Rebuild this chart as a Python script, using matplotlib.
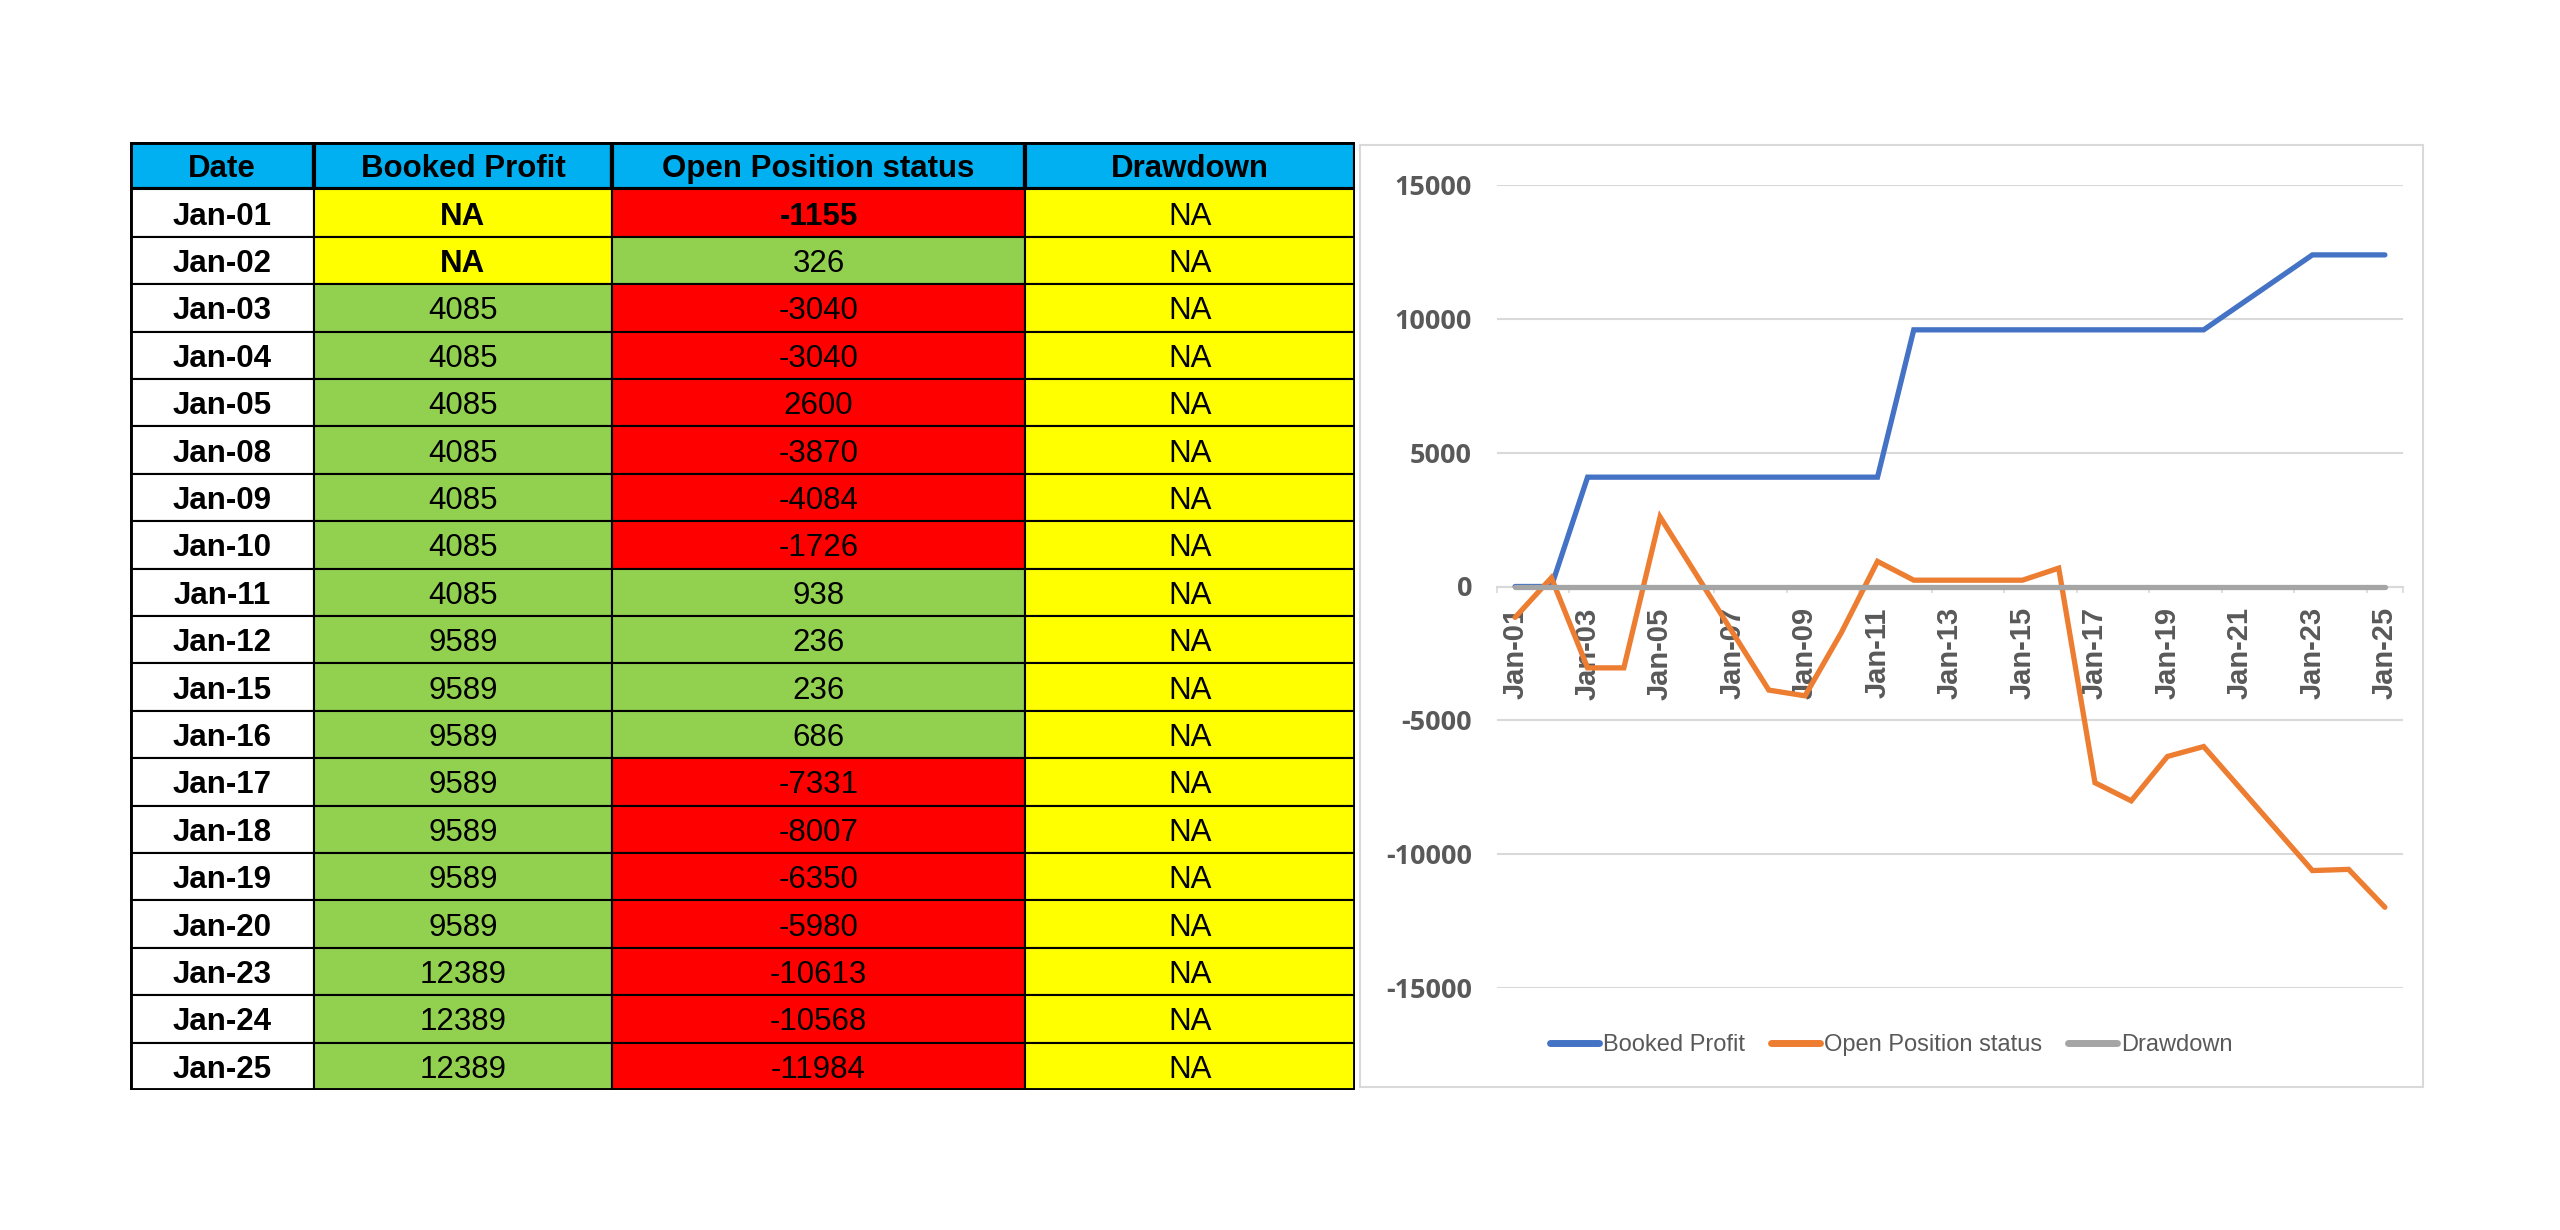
import matplotlib
matplotlib.use("Agg")
import matplotlib.pyplot as plt
from matplotlib.patches import Rectangle
from matplotlib.lines import Line2D

# data read from the sheet
dates = ["Jan-01", "Jan-02", "Jan-03", "Jan-04", "Jan-05", "Jan-08", "Jan-09",
         "Jan-10", "Jan-11", "Jan-12", "Jan-15", "Jan-16", "Jan-17", "Jan-18",
         "Jan-19", "Jan-20", "Jan-23", "Jan-24", "Jan-25"]
booked_profit = ["NA", "NA", 4085, 4085, 4085, 4085, 4085, 4085, 4085, 9589,
                 9589, 9589, 9589, 9589, 9589, 9589, 12389, 12389, 12389]
open_position = [-1155, 326, -3040, -3040, 2600, -3870, -4084, -1726, 938, 236,
                 236, 686, -7331, -8007, -6350, -5980, -10613, -10568, -11984]
drawdown = ["NA"] * 19
headers = ["Date", "Booked Profit", "Open Position status", "Drawdown"]
series_names = ["Booked Profit", "Open Position status", "Drawdown"]

# cell styling (conditional formatting in the sheet)
YELLOW, GREEN, RED, BLUE_HDR = "#FFFF00", "#92D050", "#FF0000", "#00B0F0"
op_fill = [RED, GREEN, RED, RED, RED, RED, RED, RED, GREEN, GREEN,
           GREEN, GREEN, RED, RED, RED, RED, RED, RED, RED]
bold_cells = {(0, 1), (0, 2), (1, 1)}

LINE_COLORS = ["#4472C4", "#ED7D31", "#A5A5A5"]
TXT_GRAY = "#595959"
GRID = "#D9D9D9"
SANS = ["Liberation Sans", "DejaVu Sans"]

W, H = 2560, 1230
fig = plt.figure(figsize=(W / 100, H / 100), dpi=100)
fig.patch.set_facecolor("white")

########
# Table
########
tx0, tx1, ty0, ty1 = 130, 1355, 142, 1090
ax_t = fig.add_axes([tx0 / W, 1 - ty1 / H, (tx1 - tx0) / W, (ty1 - ty0) / H])
col_edges = [0, 184, 482, 895, 1225]
n_rows = len(dates) + 1
ax_t.set_xlim(0, col_edges[-1])
ax_t.set_ylim(n_rows, 0)
ax_t.axis("off")


def cell(r, c, fill, text, bold=False, lw=1.5):
    x0, x1 = col_edges[c], col_edges[c + 1]
    ax_t.add_patch(Rectangle((x0, r), x1 - x0, 1, facecolor=fill,
                             edgecolor="black", lw=lw, zorder=1))
    ax_t.text((x0 + x1) / 2, r + 0.5, text, ha="center", va="center_baseline",
              fontsize=22.5, fontweight="bold" if bold else "normal",
              family=SANS, color="black", zorder=3)


for c, h in enumerate(headers):
    cell(0, c, BLUE_HDR, h, bold=True, lw=3)

for i, d in enumerate(dates):
    r = i + 1
    cell(r, 0, "white", d, bold=True)
    bp = booked_profit[i]
    cell(r, 1, YELLOW if bp == "NA" else GREEN, str(bp), bold=(i, 1) in bold_cells)
    cell(r, 2, op_fill[i], str(open_position[i]), bold=(i, 2) in bold_cells)
    cell(r, 3, YELLOW, str(drawdown[i]))

ax_t.add_patch(Rectangle((0, 0), col_edges[-1], n_rows, fill=False,
                         edgecolor="black", lw=3.5, zorder=4))

########
# Chart
########
fig.add_artist(Rectangle((1360 / W, 1 - 1087 / H), (2423 - 1360) / W, (1087 - 145) / H,
                         transform=fig.transFigure, fill=False, ec=GRID, lw=1.5))

ax = fig.add_axes([1497 / W, 1 - 988 / H, (2403 - 1497) / W, (988 - 185) / H])
days = [int(d[4:]) for d in dates]
bp_vals = [0 if v == "NA" else v for v in booked_profit]
dd_vals = [0 if v == "NA" else v for v in drawdown]

# category axis crosses at zero (set before the ticks, it resets them)
for s in ["top", "right", "left"]:
    ax.spines[s].set_visible(False)
ax.spines["bottom"].set_position(("data", 0))
ax.spines["bottom"].set_color(GRID)
ax.spines["bottom"].set_linewidth(1.5)
ax.set_facecolor("none")

for vals, col in zip([bp_vals, open_position, dd_vals], LINE_COLORS):
    ax.plot(days, vals, color=col, lw=3.8, solid_capstyle="round",
            solid_joinstyle="miter", zorder=3)

ax.set_xlim(days[0] - 0.5, days[-1] + 0.5)
ax.set_ylim(-15000, 15000)
ax.set_yticks(range(-15000, 15001, 5000))
ax.set_yticklabels([str(v) for v in range(-15000, 15001, 5000)],
                   fontsize=19.5, fontweight="bold", color=TXT_GRAY, family="Open Sans")
ax.grid(axis="y", color=GRID, lw=1.5, zorder=0)
ax.tick_params(axis="y", length=0, pad=18)

xt = list(range(days[0], days[-1] + 1, 2))
ax.set_xticks(xt)
ax.set_xticklabels([f"Jan-{d:02d}" for d in xt], rotation=90, fontsize=21,
                   fontweight="bold", color=TXT_GRAY, family=SANS)
ax.set_xticks([x - 0.5 for x in xt] + [days[-1] + 0.5], minor=True)
ax.tick_params(axis="x", which="major", length=0, pad=15)
ax.tick_params(axis="x", which="minor", length=4.5, width=1.2, color=GRID,
               direction="out")

handles = [Line2D([], [], color=c, lw=5, solid_capstyle="round") for c in LINE_COLORS]
fig.legend(handles, series_names, loc="center", bbox_to_anchor=(1891 / W, 1 - 1045 / H),
           ncol=3, frameon=False, handlelength=2.1, handletextpad=0.15,
           columnspacing=1.1, prop={"family": SANS, "size": 17}, labelcolor=TXT_GRAY)

fig.savefig("out.png", dpi=100, facecolor="white")
